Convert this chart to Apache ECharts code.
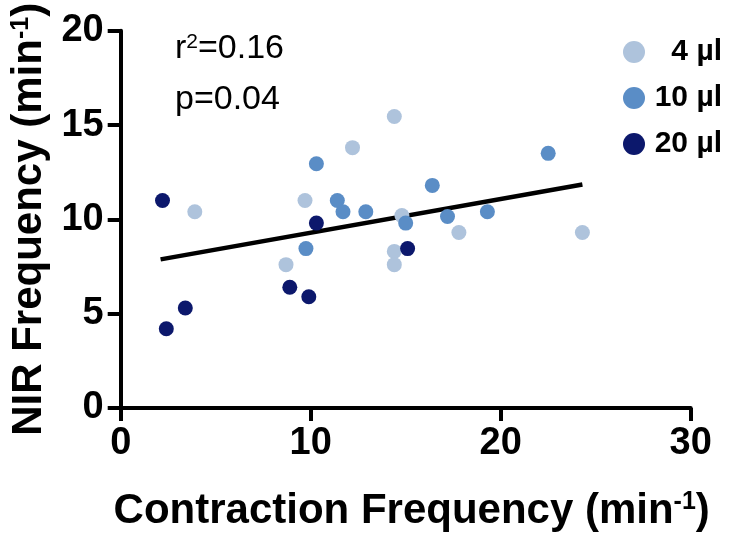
<!DOCTYPE html>
<html>
<head>
<meta charset="utf-8">
<script src="https://cdn.jsdelivr.net/npm/echarts@6/dist/echarts.min.js"></script>
<style>html,body{margin:0;padding:0;background:#fff;}#c{width:734px;height:537px;}</style>
</head>
<body>
<div id="c"></div>
<script>
const seriesNames = ['4 µl', '10 µl', '20 µl'];
const seriesColors = ['#aec3dc', '#5a8dc6', '#0c186c'];
const data4 = [[3.9,10.4],[9.7,11.0],[8.7,7.6],[14.4,15.45],[12.2,13.8],[14.8,10.2],[17.8,9.3],[24.3,9.3],[14.4,8.3],[14.4,7.6]];
const data10 = [[10.3,12.95],[9.75,8.45],[11.4,11.0],[11.7,10.4],[12.9,10.4],[15.0,9.8],[16.4,11.8],[17.2,10.15],[19.3,10.4],[22.5,13.5]];
const data20 = [[2.2,11.0],[3.4,5.3],[2.4,4.2],[10.3,9.8],[8.9,6.4],[9.9,5.9],[15.1,8.45]];
const fitLine = [[2.1,7.88],[24.3,11.85]];
const xTicks = {min: 0, max: 30, interval: 10};
const yTicks = {min: 0, max: 20, interval: 5};
const statR2 = ['r', '2', '=0.16'];
const statP = 'p=0.04';

const FF = '"Liberation Sans", Arial, Helvetica, sans-serif';
const chart = echarts.init(document.getElementById('c'), null, {renderer: 'canvas'});
const titleRich = {
  a: {fontSize: 42, fontWeight: 'bold', fontFamily: FF, color: '#000'},
  s: {fontSize: 25, fontWeight: 'bold', fontFamily: FF, color: '#000', verticalAlign: 'top'}
};
const axisCommon = {
  axisLine: {show: true, lineStyle: {color: '#000', width: 4}},
  axisTick: {show: true, inside: false, length: 13, lineStyle: {color: '#000', width: 4}},
  axisLabel: {color: '#000', fontSize: 38, fontWeight: 'bold', fontFamily: FF, margin: 17},
  splitLine: {show: false}
};
const option = {
  backgroundColor: '#fff',
  animation: false,
  grid: {left: 120.7, right: 43.3, top: 30.7, bottom: 128, containLabel: false},
  xAxis: Object.assign({
    type: 'value', min: xTicks.min, max: xTicks.max, interval: xTicks.interval,
    name: '{a|Contraction Frequency (min}{s|-1}{a|)}',
    nameLocation: 'middle', nameGap: 82,
    nameTextStyle: {rich: titleRich, padding: [0, 0, 0, 12]}
  }, axisCommon),
  yAxis: Object.assign({
    type: 'value', min: yTicks.min, max: yTicks.max, interval: yTicks.interval,
    name: '{a|NIR Frequency (min}{s|-1}{a|)}',
    nameLocation: 'middle', nameGap: 67, nameRotate: 90,
    nameTextStyle: {rich: titleRich, padding: [0, 0, 0, 0]}
  }, axisCommon),
  legend: {
    data: seriesNames,
    orient: 'vertical', left: 618, top: 32, padding: 5,
    itemWidth: 22, itemHeight: 22, itemGap: 16,
    icon: 'circle',
    formatter: function (n) { return '{n|' + n + '}'; },
    textStyle: {rich: {n: {width: 72, align: 'right', fontSize: 30, fontWeight: 'bold', fontFamily: FF, color: '#000'}}}
  },
  graphic: [
    {type: 'text', left: 175, top: 32, style: {
      text: '{a|' + statR2[0] + '}{s|' + statR2[1] + '}{a|' + statR2[2] + '}',
      rich: {
        a: {fontSize: 34, fontFamily: FF, fill: '#000', color: '#000'},
        s: {fontSize: 21, fontFamily: FF, fill: '#000', color: '#000', verticalAlign: 'top'}
      }
    }},
    {type: 'text', left: 175, top: 83, style: {text: statP, font: '34px ' + FF, fill: '#000'}}
  ],
  series: [
    {type: 'line', data: fitLine, showSymbol: false, symbol: 'none', lineStyle: {color: '#000', width: 4.5}, z: 1, silent: true},
    {name: seriesNames[0], type: 'scatter', data: data4, symbolSize: 15, itemStyle: {color: seriesColors[0], opacity: 1}, z: 3},
    {name: seriesNames[1], type: 'scatter', data: data10, symbolSize: 15, itemStyle: {color: seriesColors[1], opacity: 1}, z: 3},
    {name: seriesNames[2], type: 'scatter', data: data20, symbolSize: 15, itemStyle: {color: seriesColors[2], opacity: 1}, z: 3}
  ]
};
chart.setOption(option);
</script>
</body>
</html>
